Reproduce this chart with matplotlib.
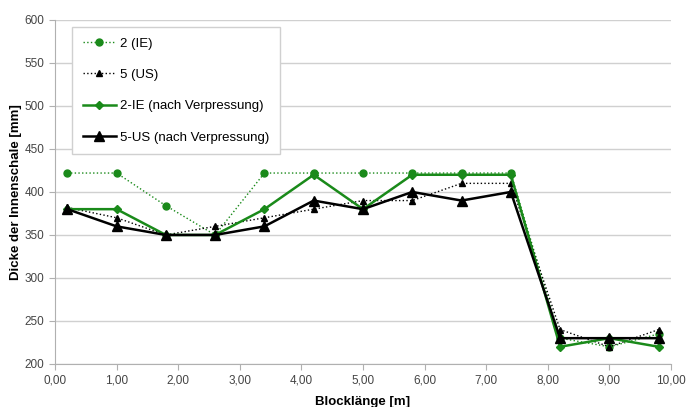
import matplotlib.pyplot as plt

plt.rcParams['font.family'] = ['Liberation Sans', 'DejaVu Sans']

# Blocklänge [m]
x = [0.2, 1.0, 1.8, 2.6, 3.4, 4.2, 5.0, 5.8, 6.6, 7.4, 8.2, 9.0, 9.8]
# Dicke der Innenschale [mm]
ie_2 = [422, 422, 384, 350, 422, 422, 422, 422, 422, 422, 230, 220, 235]
us_5 = [382, 370, 350, 360, 370, 380, 390, 390, 410, 410, 240, 220, 240]
ie_2_nach = [380, 380, 350, 350, 380, 420, 380, 420, 420, 420, 220, 230, 220]
us_5_nach = [380, 360, 350, 350, 360, 390, 380, 400, 390, 400, 230, 230, 230]

green = '#1a8a1a'

fig = plt.figure(figsize=(6.91, 4.07), dpi=100)
ax = fig.add_axes([0.0796, 0.1057, 0.8914, 0.8453])

ax.plot(x, ie_2, ':', color=green, lw=1.0, marker='o', ms=5, label='2 (IE)')
ax.plot(x, us_5, ':', color='black', lw=1.0, marker='^', ms=4, label='5 (US)')
ax.plot(x, ie_2_nach, '-', color=green, lw=1.8, marker='D', ms=4.5,
        label='2-IE (nach Verpressung)')
ax.plot(x, us_5_nach, '-', color='black', lw=1.8, marker='^', ms=6.5,
        label='5-US (nach Verpressung)')

ax.set_xlim(0, 10)
ax.set_ylim(200, 600)
ax.set_xticks(range(0, 11))
ax.set_xticklabels(['%d,00' % i for i in range(0, 11)])
ax.set_yticks(range(200, 601, 50))
ax.grid(axis='y', color='#d0d0d0', lw=1)
ax.set_axisbelow(True)
for s in ['top', 'right']:
    ax.spines[s].set_visible(False)
for s in ['left', 'bottom']:
    ax.spines[s].set_color('#b0b0b0')
ax.tick_params(colors='#b0b0b0', labelcolor='#444444', labelsize=8.5, length=4)

ax.set_xlabel('Blocklänge [m]', fontsize=9.5, fontweight='bold', labelpad=7)
ax.set_ylabel('Dicke der Innenschale [mm]', fontsize=9.5, fontweight='bold', labelpad=2)

leg = ax.legend(loc='upper left', bbox_to_anchor=(0.028, 0.98), fontsize=9.5,
                labelspacing=1.45, handlelength=2.5, handletextpad=0.35,
                borderpad=0.8, borderaxespad=0,
                fancybox=False, framealpha=1, edgecolor='#d0d0d0')
leg.get_frame().set_linewidth(1)

plt.savefig('out.png', dpi=100)
